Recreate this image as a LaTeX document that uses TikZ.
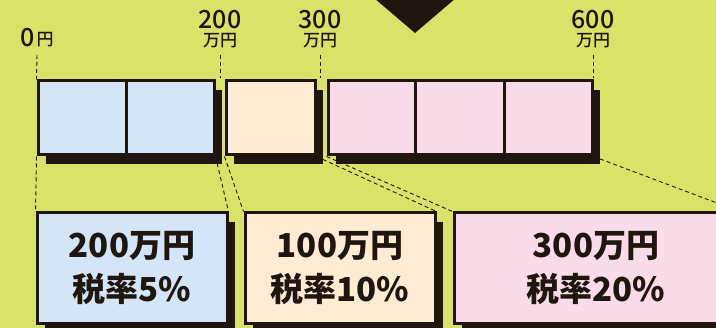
\documentclass[tikz,border=0pt]{standalone}
\usepackage{fontspec}
\setmainfont{Noto Sans CJK JP}
\newfontfamily\medfont{Noto Sans CJK JP Medium}
\usetikzlibrary{shadows,backgrounds,calc,positioning}

\begin{document}
\begin{tikzpicture}[x=1pt, y=-1pt,
        box/.style={draw=ink, line width=3pt, inner sep=0pt},
        shade/.style={drop shadow={shadow xshift=8pt, shadow yshift=-9pt, fill=ink, opacity=1}},
        guide/.style={draw=ink, line width=0.9pt, dash pattern=on 4pt off 3pt},
        num/.style={font=\medfont\fontsize{25}{26}\selectfont, text=ink, inner sep=0pt},
        unit/.style={font=\medfont\fontsize{17}{18}\selectfont, text=ink, inner sep=0pt},
        big/.style={font=\fontsize{33}{44}\selectfont\bfseries, text=ink, align=center}]
            % Define colors
            \definecolor{ink}{RGB}{31,22,16}
            \definecolor{bg}{RGB}{217,227,103}
            \definecolor{lowblue}{RGB}{211,229,246}
            \definecolor{midpeach}{RGB}{253,235,212}
            \definecolor{highpink}{RGB}{249,219,233}

            % Page size and background
            \useasboundingbox (0,0) rectangle (716,328);
            \begin{scope}[on background layer]
                \fill[bg] (0,0) rectangle (716,328);
            \end{scope}
            \clip (0,0) rectangle (716,328);

            % Pointer at the top
            \fill[ink] (374,-2) -- (456,-2) -- (415,33) -- cycle;

            % Income bar, one group per bracket
            \node[box, shade, fill=lowblue, minimum width=176pt, minimum height=74pt] (g1) at (126,118) {};
            \node[box, shade, fill=midpeach, minimum width=89pt, minimum height=74pt] (g2) at (270.5,118) {};
            \node[box, shade, fill=highpink, minimum width=264pt, minimum height=74pt] (g3) at (460,118) {};

            % Cell dividers
            \draw[ink, line width=3pt] (g1.north) -- (g1.south);
            \foreach \f in {1/3, 2/3} {
                    \draw[ink, line width=3pt] ($(g3.north west)!\f!(g3.north east)$) -- ($(g3.south west)!\f!(g3.south east)$);
                }

            % Amounts above the bar
            \node[num] (n0) at (28,38) {0};
            \node[unit, right=1pt of n0.south east, anchor=south west] (u0) {円};
            \foreach \x/\num in {220/200, 320/300, 593/600} {
                    \node[num] (n\num) at (\x,20) {\num};
                    \node[unit] (u\num) at (\x,41) {万円};
                    \draw[guide] (u\num.south) ++(0,6) -- (\x,78);
                }
            \draw[guide] (37,55) -- (g1.north west);

            % Brackets with their rates
            \node[box, shade, fill=lowblue, minimum width=190pt, minimum height=111pt, big] (b1) at (132,268.5) {200万円\\税率5\%};
            \node[box, shade, fill=midpeach, minimum width=190pt, minimum height=111pt, big] (b2) at (340,268.5) {100万円\\税率10\%};
            \node[box, shade, fill=highpink, minimum width=284pt, minimum height=111pt, big] (b3) at (596,268.5) {300万円\\税率20\%};

            % Dashed links from the bar down to the brackets
            \begin{scope}[on background layer]
                \draw[guide] (g1.south west) -- (b1.north west);
                \draw[guide] (g1.south east) -- (b1.north east);
                \draw[guide] (g2.south west) -- (b2.north west);
                \draw[guide] (g2.south east) -- (b2.north east);
                \draw[guide] (g3.south west) -- (b3.north west);
                \draw[guide] (g3.south east) -- (b3.north east);
            \end{scope}

        \end{tikzpicture}
\end{document}
